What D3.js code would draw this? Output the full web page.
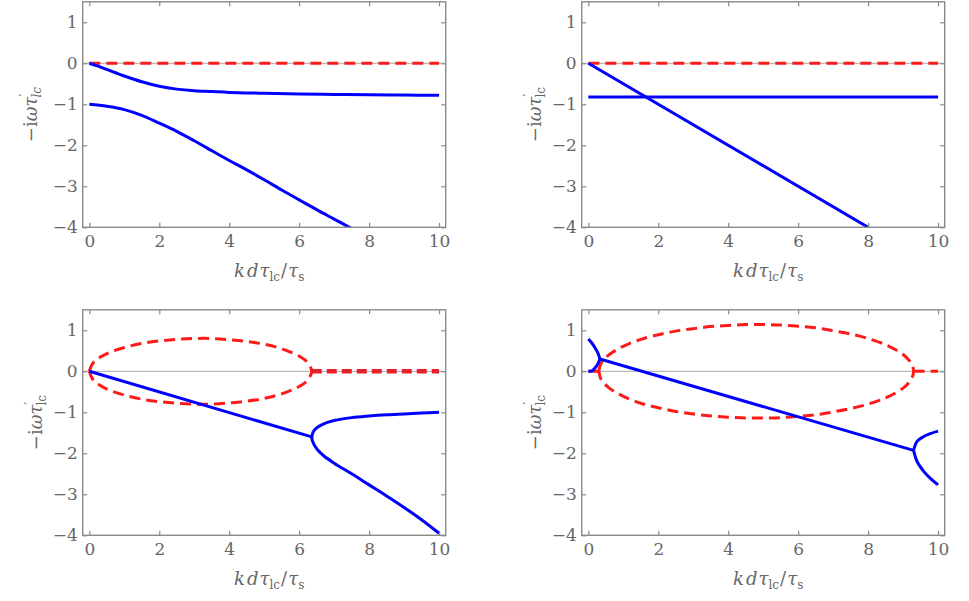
<!DOCTYPE html>
<html>
<head>
<meta charset="utf-8">
<script src="https://cdn.jsdelivr.net/npm/d3@7"></script>
<style>
  body { margin: 0; background: #fff; }
  svg { display: block; }
  .serif { font-family: "DejaVu Serif"; }
</style>
</head>
<body>
<script>

// Tick values shared by all four panels
var xTickValues = [0, 2, 4, 6, 8, 10];
var yTickValues = [-4, -3, -2, -1, 0, 1];

// Panel (a): top left
var aRedZero = [[0, 0], [10, 0]];
var aBlueUpper = [[0, 0], [0.25, -0.07], [0.5, -0.15], [0.75, -0.23], [1, -0.31], [1.5, -0.45],
  [2, -0.56], [2.5, -0.63], [3, -0.67], [3.5, -0.69], [4, -0.71], [5, -0.73], [6, -0.75],
  [7, -0.76], [8, -0.77], [9, -0.775], [10, -0.78]];
var aBlueLower = [[0, -1], [0.5, -1.05], [1, -1.13], [1.5, -1.27], [2, -1.46], [2.5, -1.66],
  [3, -1.89], [3.5, -2.13], [4, -2.37], [4.5, -2.6], [5, -2.84], [5.5, -3.09], [6, -3.33],
  [6.5, -3.57], [7, -3.8], [7.5, -4.03]];

// Panel (b): top right
var bRedZero = [[0, 0], [10, 0]];
var bBlueFlat = [[0, -0.82], [10, -0.82]];
var bBlueSlope = [[0, 0], [8, -4]];

// Panel (c): bottom left
var cRedLoop = [[0, 0], [0.1, 0.2], [0.3, 0.34], [0.6, 0.47], [1, 0.58], [1.5, 0.68], [2, 0.74],
  [2.5, 0.78], [3, 0.8], [3.5, 0.8], [4, 0.77], [4.5, 0.73], [5, 0.66], [5.5, 0.55], [6, 0.37],
  [6.2, 0.25], [6.36, 0], [6.2, -0.25], [6, -0.37], [5.5, -0.55], [5, -0.66], [4.5, -0.73],
  [4, -0.77], [3.5, -0.8], [3, -0.8], [2.5, -0.78], [2, -0.74], [1.5, -0.68], [1, -0.58],
  [0.6, -0.47], [0.3, -0.34], [0.1, -0.2], [0, 0]];
var cRedZero = [[6.36, 0], [10, 0]];
var cBlueLine = [[0, 0], [6.36, -1.6]];
var cBlueUpper = [[6.36, -1.6], [6.4, -1.48], [6.5, -1.38], [6.7, -1.28], [7, -1.2], [7.5, -1.13],
  [8, -1.09], [8.5, -1.06], [9, -1.04], [9.5, -1.02], [10, -1.0]];
var cBlueLower = [[6.36, -1.6], [6.38, -1.7], [6.45, -1.82], [6.55, -1.94], [6.7, -2.06], [7, -2.24],
  [7.5, -2.5], [8, -2.77], [8.5, -3.04], [9, -3.32], [9.5, -3.62], [10, -3.95]];

// Panel (d): bottom right
var dRedLoop = [[0.3, 0], [0.35, 0.17], [0.45, 0.29], [0.6, 0.41], [0.8, 0.52], [1, 0.61],
  [1.5, 0.78], [2, 0.89], [2.5, 0.98], [3, 1.04], [3.5, 1.09], [4, 1.12], [4.5, 1.14], [5, 1.14],
  [5.5, 1.13], [6, 1.1], [6.5, 1.06], [7, 0.99], [7.5, 0.91], [8, 0.8], [8.5, 0.65], [8.8, 0.52],
  [9, 0.41], [9.15, 0.29], [9.25, 0.17], [9.3, 0], [9.25, -0.17], [9.15, -0.29], [9, -0.41],
  [8.8, -0.52], [8.5, -0.65], [8, -0.8], [7.5, -0.91], [7, -0.99], [6.5, -1.06], [6, -1.1],
  [5.5, -1.13], [5, -1.14], [4.5, -1.14], [4, -1.12], [3.5, -1.09], [3, -1.04], [2.5, -0.98],
  [2, -0.89], [1.5, -0.78], [1, -0.61], [0.8, -0.52], [0.6, -0.41], [0.45, -0.29], [0.35, -0.17],
  [0.3, 0]];
var dRedZeroLeft = [[0, 0], [0.3, 0]];
var dRedZeroRight = [[9.3, 0], [10, 0]];
var dBlueTop = [[0, 0.79], [0.1, 0.69], [0.22, 0.53], [0.29, 0.41], [0.33, 0.3]];
var dBlueBottom = [[0, 0], [0.1, 0.01], [0.19, 0.08], [0.27, 0.18], [0.33, 0.3]];
var dBlueLine = [[0.33, 0.3], [9.3, -1.93]];
var dBlueUpper = [[9.3, -1.93], [9.4, -1.71], [9.59, -1.59], [9.78, -1.52], [10, -1.46]];
var dBlueLower = [[9.3, -1.93], [9.4, -2.2], [9.59, -2.44], [9.78, -2.61], [10, -2.77]];

var w = 969;
var h = 601;

var svg = d3.select("body")
            .append("svg")
            .attr("class", "serif")
            .attr("width", w)
            .attr("height", h);

// frame size, same for all panels
var frameW = 363;
var frameH = 225.5;

var textColor = "#666";
var frameColor = "#8a8a8a";

var panels = [
  { left: 82.7, top: 1.8, italicSub: true, labelGap: 46,
    red: [aRedZero], redThick: [], blue: [aBlueUpper, aBlueLower] },
  { left: 581.7, top: 1.8, italicSub: false, labelGap: 41,
    red: [bRedZero], redThick: [], blue: [bBlueFlat, bBlueSlope] },
  { left: 82.7, top: 309.8, italicSub: false, labelGap: 41,
    red: [cRedLoop], redThick: [cRedZero], blue: [cBlueLine, cBlueUpper, cBlueLower] },
  { left: 581.7, top: 309.8, italicSub: false, labelGap: 41,
    red: [dRedLoop, dRedZeroLeft, dRedZeroRight], redThick: [],
    blue: [dBlueTop, dBlueBottom, dBlueLine, dBlueUpper, dBlueLower] }
];

panels.forEach(function(p, i) {
  drawPanel(p, i);
});

function drawPanel(p, i) {

  var xScale = d3.scaleLinear()
                 .domain([-0.19, 10.19])
                 .range([p.left, p.left + frameW]);

  var yScale = d3.scaleLinear()
                 .domain([-4, 1.5])
                 .range([p.top + frameH, p.top]);

  var g = svg.append("g");

  // clip the curves to the frame
  g.append("clipPath")
   .attr("id", "clip" + i)
   .append("rect")
   .attr("x", p.left)
   .attr("y", p.top)
   .attr("width", frameW)
   .attr("height", frameH);

  // thin zero axis
  g.append("line")
   .attr("x1", p.left)
   .attr("x2", p.left + frameW)
   .attr("y1", yScale(0))
   .attr("y2", yScale(0))
   .attr("stroke", "#a8a8a8")
   .attr("stroke-width", 1);

  var line = d3.line()
               .x(d => xScale(d[0]))
               .y(d => yScale(d[1]))
               .curve(d3.curveCatmullRom);

  var curves = g.append("g").attr("clip-path", "url(#clip" + i + ")");

  curves.selectAll(".red")
        .data(p.red)
        .enter()
        .append("path")
        .attr("d", line)
        .attr("fill", "none")
        .attr("stroke", "#ff1a1a")
        .attr("stroke-width", 3)
        .attr("stroke-dasharray", "11,6");

  // two coincident branches look like a heavier dashed line
  curves.selectAll(".redThick")
        .data(p.redThick)
        .enter()
        .append("path")
        .attr("d", line)
        .attr("fill", "none")
        .attr("stroke", "#e8202a")
        .attr("stroke-width", 4.5)
        .attr("stroke-dasharray", "10,5");

  curves.selectAll(".blue")
        .data(p.blue)
        .enter()
        .append("path")
        .attr("d", line)
        .attr("fill", "none")
        .attr("stroke", "#0000ff")
        .attr("stroke-width", 3)
        .attr("stroke-linejoin", "round");

  // frame
  g.append("rect")
   .attr("x", p.left)
   .attr("y", p.top)
   .attr("width", frameW)
   .attr("height", frameH)
   .attr("fill", "none")
   .attr("stroke", frameColor)
   .attr("stroke-width", 1.4);

  var xMinor = d3.range(0, 10.01, 0.5);
  var yMinor = d3.range(-4, 1.51, 0.25);

  // axes with inward ticks on all sides
  var bottom = g.append("g").attr("transform", `translate(0, ${p.top + frameH})`);
  bottom.call(d3.axisBottom(xScale).tickValues(xMinor).tickSize(-2.5).tickFormat(""));
  bottom.call(d3.axisBottom(xScale).tickValues(xTickValues).tickSize(-4.5).tickPadding(8).tickFormat(d3.format("d")));

  var top = g.append("g").attr("transform", `translate(0, ${p.top})`);
  top.call(d3.axisTop(xScale).tickValues(xMinor).tickSize(-2.5).tickFormat(""));
  top.call(d3.axisTop(xScale).tickValues(xTickValues).tickSize(-4.5).tickFormat(""));

  var left = g.append("g").attr("transform", `translate(${p.left}, 0)`);
  left.call(d3.axisLeft(yScale).tickValues(yMinor).tickSize(-2.5).tickFormat(""));
  left.call(d3.axisLeft(yScale).tickValues(yTickValues).tickSize(-4.5).tickPadding(5).tickFormat(d3.format("d")));

  var right = g.append("g").attr("transform", `translate(${p.left + frameW}, 0)`);
  right.call(d3.axisRight(yScale).tickValues(yMinor).tickSize(-2.5).tickFormat(""));
  right.call(d3.axisRight(yScale).tickValues(yTickValues).tickSize(-4.5).tickFormat(""));

  // drop the axis defaults (sans-serif, 10px) so the svg font applies
  g.selectAll(".domain").remove();
  g.selectAll("g").attr("font-family", null).attr("font-size", null);
  g.selectAll(".tick line").attr("stroke", frameColor).attr("stroke-width", 1.2);
  g.selectAll(".tick text")
   .style("font-size", "17px")
   .attr("fill", textColor);

  // x label: k d tau_lc / tau_s
  var xl = g.append("text")
            .attr("x", p.left + frameW / 2 + 5)
            .attr("y", p.top + frameH + 50)
            .attr("text-anchor", "middle")
            .style("font-size", "18px")
            .attr("fill", textColor);
  xl.append("tspan").attr("font-style", "italic").text("k");
  xl.append("tspan").attr("font-style", "italic").attr("dx", 2).text("d");
  xl.append("tspan").attr("font-style", "italic").attr("dx", 1).text("τ");
  xl.append("tspan").style("font-size", "12px").attr("dy", 4).text("lc");
  xl.append("tspan").attr("dy", -4).attr("dx", 1).text("/");
  xl.append("tspan").attr("font-style", "italic").attr("dx", 1).text("τ");
  xl.append("tspan").style("font-size", "12px").attr("dy", 4).text("s");

  // y label: -i omega tau'_lc
  var cy = p.top + frameH / 2;
  var cx = p.left - p.labelGap;
  var yl = g.append("text")
            .attr("transform", `translate(${cx}, ${cy}) rotate(-90)`)
            .attr("text-anchor", "middle")
            .style("font-size", "18px")
            .attr("fill", textColor);
  yl.append("tspan").text("−i");
  yl.append("tspan").attr("font-style", "italic").text("ωτ");
  yl.append("tspan").style("font-size", "14px").attr("dy", -7).text("′");
  yl.append("tspan")
    .style("font-size", "12px")
    .attr("font-style", p.italicSub ? "italic" : "normal")
    .attr("dx", -4)
    .attr("dy", 11)
    .text("lc");
}

</script>
</body>
</html>
